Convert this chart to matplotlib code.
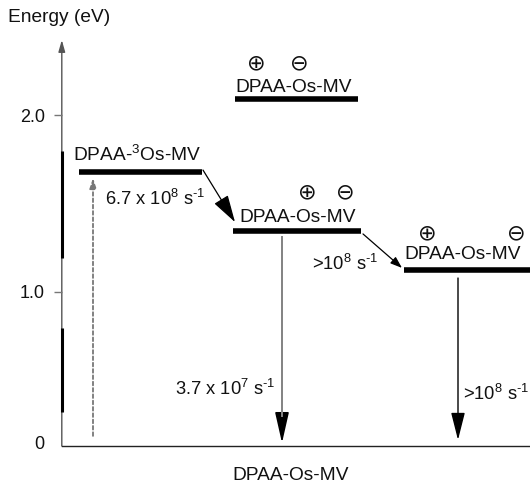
import matplotlib
matplotlib.use("Agg")
import matplotlib.pyplot as plt
from matplotlib.patches import FancyArrowPatch

plt.rcParams['font.family'] = ['Liberation Sans', 'DejaVu Sans']
plt.rcParams['mathtext.fontset'] = 'custom'
plt.rcParams['mathtext.rm'] = 'Liberation Sans'
plt.rcParams['mathtext.it'] = 'Liberation Sans'

# ---------------- data ----------------
level_names = ['DPAA-$^{3}$Os-MV', 'DPAA-Os-MV', 'DPAA-Os-MV', 'DPAA-Os-MV']
level_energy = [1.68, 2.09, 1.345, 1.124]          # eV
level_charged = [False, True, True, True]
rate_labels = ['6.7 x 10$^{8}$ s$^{\u2010 1}$', '>10$^{8}$ s$^{\u2010 1}$',
               '3.7 x 10$^{7}$ s$^{\u2010 1}$', '>10$^{8}$ s$^{\u2010 1}$']
ytick_values = [1.0, 2.0]
ytick_labels = ['1.0', '2.0']
zero_label = '0'
ylabel = 'Energy (eV)'
xlabel = 'DPAA-Os-MV'

# ---------------- layout ----------------
W, H = 530, 488
fig = plt.figure(figsize=(W / 100, H / 100), dpi=100)
ax_left_px, ax_bottom_px, ax_top_px = 61.5, 446, 40
ax = fig.add_axes([ax_left_px / W, (H - ax_bottom_px) / H,
                   (W - ax_left_px) / W, (ax_bottom_px - ax_top_px) / H])
px_per_ev = 177.0
e_zero_px = 469.0
ybot = (e_zero_px - ax_bottom_px) / px_per_ev
ytop = (e_zero_px - ax_top_px) / px_per_ev
ax.set_xlim(0, W - ax_left_px)
ax.set_ylim(ybot, ytop)
for s in ['top', 'right', 'left']:
    ax.spines[s].set_visible(False)
ax.spines['bottom'].set_color('#222222')
ax.spines['bottom'].set_linewidth(1.0)
ax.set_xticks([])

# y ticks
zero_pos = 0.15
ax.set_yticks([zero_pos] + ytick_values, [zero_label] + ytick_labels)
ax.tick_params(axis='y', length=6, width=1.0, color='#777777', pad=6,
               labelsize=13, labelcolor='#111111')
ax.yaxis.get_major_ticks()[0].tick1line.set_visible(False)

# y axis line with arrow
ax.add_patch(FancyArrowPatch((0.3, ybot), (0.3, ytop), arrowstyle='-|>,head_length=7,head_width=2',
                             mutation_scale=1, color='#555555', lw=1.0, shrinkA=0, shrinkB=0,
                             clip_on=False))
for a, b in [(1.797, 1.192), (0.797, 0.322)]:
    ax.plot([0.3, 0.3], [a, b], color='black', lw=2.2, solid_capstyle='butt', clip_on=False)

# levels
bar_x = [(17.5, 140.5), (173.5, 296.5), (171.5, 299.5), (342.5, 468.5)]
label_pos = [(11.5, 1.74), (173.5, 2.13), (177.5, 1.395), (342.5, 1.186)]
charge_pos = [None, ((194.5, 2.294), (237.5, 2.294)),
              ((245.5, 1.565), (283.5, 1.565)), ((365.5, 1.333), (454.5, 1.333))]
for i, (name, e) in enumerate(zip(level_names, level_energy)):
    x0, x1 = bar_x[i]
    ax.plot([x0, x1], [e, e], color='black', lw=4.0, solid_capstyle='butt', clip_on=False)
    lx, ly = label_pos[i]
    ax.text(lx, ly, name, fontsize=13.8, ha='left', va='baseline', color='#111111')
    if level_charged[i]:
        (px_, py_), (mx_, my_) = charge_pos[i]
        ax.text(px_, py_, '\u2295', fontsize=16, ha='center', va='center',
                family=['DejaVu Sans'], color='#111111')
        ax.text(mx_, my_, '\u2296', fontsize=16, ha='center', va='center',
                family=['DejaVu Sans'], color='#111111')

# excitation (dotted) arrow
ax.add_patch(FancyArrowPatch((31.5, 0.187), (31.5, 1.644),
                             arrowstyle='-|>,head_length=6,head_width=2', mutation_scale=1,
                             color='#777777', lw=1.3, linestyle=(0, (2, 1.5)),
                             shrinkA=0, shrinkB=0))

# transfer arrows
ax.add_patch(FancyArrowPatch((141.5, 1.689), (173.5, 1.395),
                             arrowstyle='-|>,head_length=17,head_width=5', mutation_scale=1,
                             color='black', lw=0.9, shrinkA=0, shrinkB=0))
ax.add_patch(FancyArrowPatch((301.5, 1.328), (340.5, 1.136),
                             arrowstyle='-|>,head_length=7,head_width=2.5', mutation_scale=1,
                             color='black', lw=0.9, shrinkA=0, shrinkB=0))

# decay arrows
ax.add_patch(FancyArrowPatch((220.5, 1.311), (220.5, 0.147),
                             arrowstyle='-|>,head_length=19,head_width=4.3', mutation_scale=1,
                             color='black', lw=1.2, shrinkA=0, shrinkB=0))
ax.plot([220.5, 220.5], [1.311, 0.30], color='#888888', lw=1.4)
ax.add_patch(FancyArrowPatch((396.5, 1.079), (396.5, 0.164),
                             arrowstyle='-|>,head_length=17,head_width=4.3', mutation_scale=1,
                             color='black', lw=1.0, shrinkA=0, shrinkB=0))

# rate labels
rate_pos = [(43.5, 1.492), (250.5, 1.124), (113.5, 0.418), (401.5, 0.39)]
for lab, (x, y) in zip(rate_labels, rate_pos):
    ax.text(x, y, lab, fontsize=13.2, ha='left', va='baseline', color='#111111')

fig.text(8 / W, 1 - 18 / H, ylabel, fontsize=13.8, ha='left', va='center', color='#111111')
fig.text(291 / W, 1 - 476 / H, xlabel, fontsize=13.8, ha='center', va='center', color='#111111')

fig.savefig('out.png', dpi=100)
